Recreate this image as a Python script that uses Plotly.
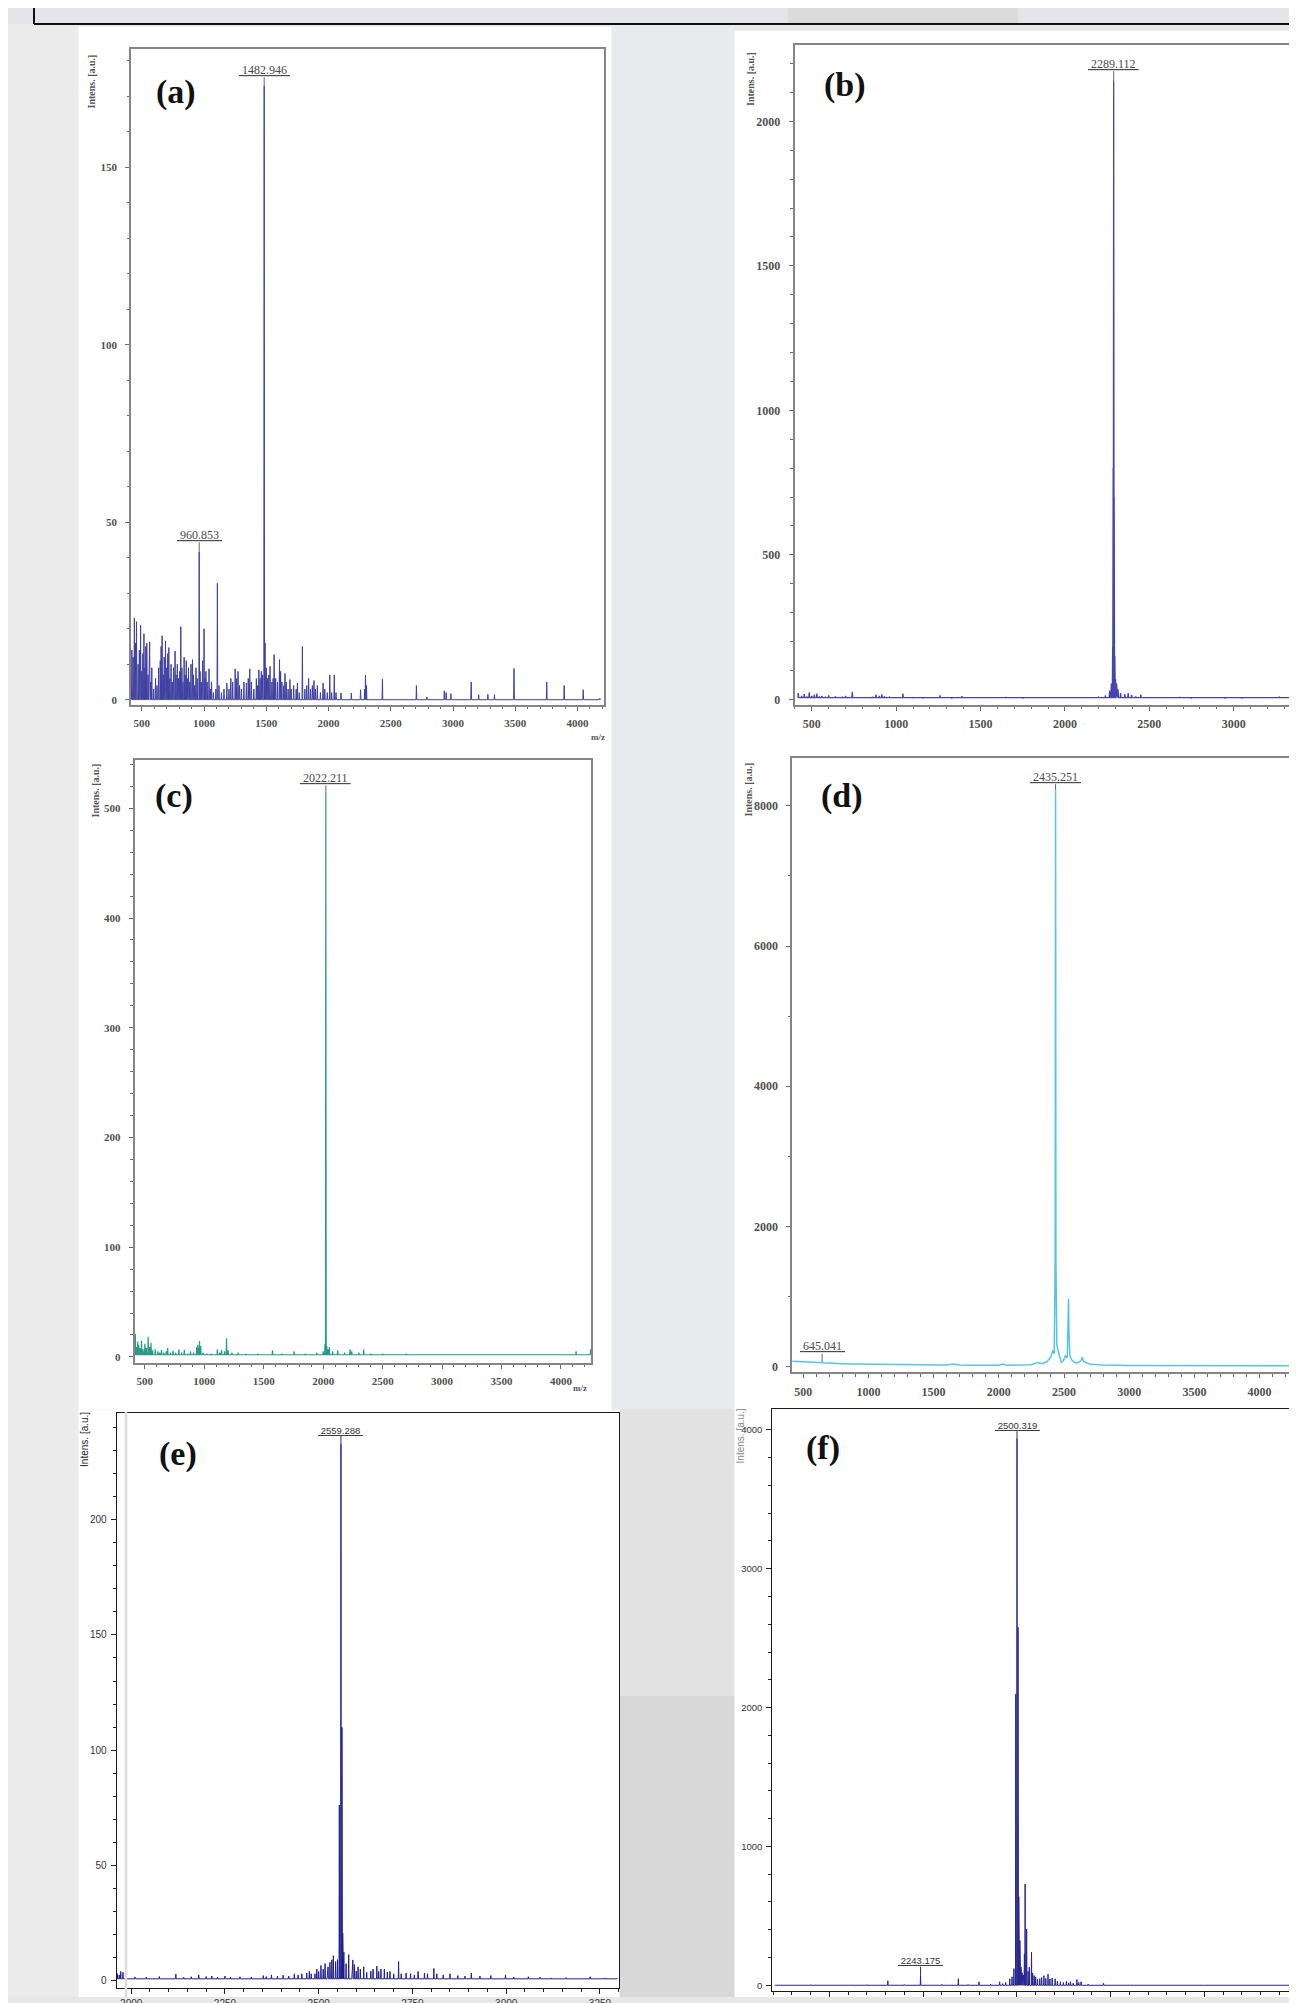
import plotly.graph_objects as go

W, H = 1297, 2003

# ---------------- data ----------------
# (a)
a_mz = [420, 430, 440, 448, 457, 470, 480, 490, 500, 508, 517, 525, 532, 540, 550, 557, 563, 572, 580, 595,
        610, 622, 635, 648, 655, 663, 672, 680, 690, 700, 708, 717, 725, 735, 745, 755, 767, 775, 785, 795,
        805, 813, 822, 830, 840, 848, 857, 865, 875, 885, 895, 907, 915, 925, 935, 945, 960.853, 968, 978, 988,
        1000, 1008, 1015, 1025, 1040, 1050, 1060, 1075, 1095, 1107, 1120, 1140, 1160, 1183, 1200, 1215, 1230, 1250, 1262, 1273,
        1285, 1300, 1320, 1340, 1355, 1367, 1380, 1400, 1420, 1430, 1440, 1450, 1460, 1470, 1482.946, 1490, 1500, 1510, 1520, 1530,
        1545, 1555, 1563, 1575, 1590, 1606, 1615, 1625, 1640, 1650, 1660, 1675, 1690, 1700, 1720, 1740, 1750, 1765, 1790, 1810,
        1825, 1840, 1855, 1870, 1883, 1895, 1910, 1935, 1956, 1970, 1990, 2010, 2025, 2046, 2060, 2100, 2183, 2257, 2290, 2297,
        2305, 2433, 2706, 2790, 2930, 2945, 2983, 3146, 3206, 3280, 3333, 3490, 3753, 3893, 4046, 4180]
a_int = [14, 12, 23, 16, 22, 10, 14, 21, 8, 13, 18.6, 9, 15, 16, 7, 12, 16.3, 5, 9, 3,
         6, 4, 9, 11, 15, 18, 7, 12, 16.6, 9, 13, 14.7, 6, 10, 5, 9, 13.7, 7, 10, 6,
         8, 20.6, 9, 5, 12, 7, 11, 6, 9, 5, 10, 11.3, 7, 4, 9, 6, 41.7, 8, 5, 11,
         20, 6, 8, 5, 8.7, 3, 5, 2, 3, 32.8, 4, 2, 3, 4.7, 3, 6, 5, 8.7, 6, 8,
         4, 3, 5, 4.7, 6, 8.7, 5, 3, 6, 4, 8.4, 6, 8, 7, 173, 16, 9, 6, 7, 9.4,
         5, 6, 12.7, 6, 5, 11.3, 8, 5, 4, 7.4, 5, 3, 5.7, 3, 4, 3, 4.7, 2, 15, 3,
         4, 6, 3, 4, 5.4, 3, 4, 2, 4.7, 3, 2, 7, 2, 7, 2, 1.9, 1.9, 2.8, 3, 6.9,
         4, 5.8, 4, 0.8, 2.5, 2, 1.7, 5, 1.4, 1.5, 1.4, 8.8, 5, 4, 2.8, 0.4]
a_label_mz = [960.853, 1482.946]
a_label_int = [41.7, 173]

# (b)
b_mz = [420, 440, 455, 470, 485, 500, 515, 530, 545, 560, 580, 600, 620, 640, 660, 680, 700, 720, 740, 760,
        800, 830, 860, 880, 900, 915, 930, 960, 1000, 1040, 1060, 1100, 1160, 1200, 1260, 1290, 1330, 1390, 1420, 1460,
        1520, 1580, 1650, 1680, 1750, 1850, 1950, 2050, 2150, 2200, 2240, 2265, 2275, 2283, 2286, 2289.112, 2292, 2296, 2300, 2306,
        2315, 2330, 2355, 2375, 2395, 2420, 2450, 2480, 2530, 2600, 2680, 2750, 2850, 2950, 3050, 3150, 3270, 3350, 3405]
b_int = [22, 12, 18, 10, 24, 12, 16, 20, 10, 12, 8, 14, 7, 10, 6, 9, 12, 8, 26, 6,
         8, 6, 9, 16, 12, 17, 10, 8, 5, 20, 8, 5, 4, 5, 14, 7, 4, 11, 5, 4,
         5, 4, 7, 5, 3, 4, 5, 4, 6, 8, 14, 30, 55, 180, 800, 2141, 700, 150, 70, 55,
         35, 22, 18, 22, 15, 10, 16, 6, 5, 4, 7, 3, 4, 3, 3, 4, 8, 3, 4]
b_label_mz = [2289.112]
b_label_int = [2141]

# (c)
c_mz = [420, 430, 440, 448, 460, 472, 485, 500, 512, 528, 540, 552, 565, 587, 610, 625, 640, 660, 680, 692,
        715, 737, 760, 786, 810, 832, 860, 884, 910, 936, 945, 952, 960, 970, 990, 1020, 1060, 1110, 1130, 1145,
        1170, 1187, 1200, 1232, 1285, 1350, 1450, 1574, 1650, 1755, 1850, 1947, 2000, 2015, 2022.211, 2030, 2040, 2052, 2080, 2122,
        2180, 2226, 2240, 2300, 2341, 2400, 2500, 2700, 4127, 4249]
c_int = [21, 9, 14, 11, 8, 15, 7, 12, 8, 18.3, 9, 13, 6, 7, 5, 4, 6.4, 4, 5, 8,
         4, 5.6, 4, 7, 4, 6.4, 3, 5, 4, 9, 11, 8, 14.4, 10, 4, 3, 3, 7, 4, 6.4,
         5, 17, 6, 4, 4, 3, 3, 6, 3, 5, 3, 4, 5, 12, 515, 10, 7, 9, 5, 6,
         4, 7, 5, 4, 7, 3, 3, 3, 5, 7]
c_label_mz = [2022.211]
c_label_int = [515]

# (d) profile points
d_mz = [415, 480, 560, 620, 640, 645.041, 650, 700, 800, 900, 1000, 1100, 1200, 1300, 1400, 1500, 1600, 1650, 1700, 1800,
        1900, 2000, 2030, 2060, 2150, 2250, 2300, 2330, 2370, 2400, 2415, 2425, 2432, 2435.251, 2438, 2445, 2455, 2470, 2480, 2495,
        2510, 2525, 2532, 2535, 2538, 2545, 2560, 2580, 2600, 2630, 2640, 2650, 2700, 2800, 3000, 3500, 4000, 4348]
d_int = [75, 72, 62, 55, 52, 75, 52, 45, 40, 35, 35, 30, 28, 25, 25, 22, 20, 35, 20, 18,
         18, 18, 35, 18, 20, 25, 55, 40, 70, 140, 230, 180, 1500, 8231, 1500, 300, 220, 120, 60, 80,
         150, 120, 600, 965, 500, 150, 90, 60, 50, 80, 130, 70, 30, 20, 15, 12, 10, 10]
d_label_mz = [645.041, 2435.251]
d_label_int = [75, 8231]

# (e)
e_mz = [1963, 1968, 1972, 1978, 1985, 2010, 2040, 2075, 2119, 2140, 2160, 2180, 2200, 2215, 2230, 2250, 2265, 2290, 2320, 2352,
        2360, 2374, 2390, 2405, 2420, 2435, 2445, 2455, 2468, 2475, 2480, 2490, 2495, 2500, 2506, 2512, 2517, 2523, 2525, 2530,
        2535, 2539, 2545, 2550, 2555, 2559.288, 2562, 2564, 2567, 2573, 2580, 2589, 2591, 2595, 2600, 2605, 2611, 2620, 2628, 2639,
        2645, 2655, 2660, 2666, 2675, 2683, 2690, 2700, 2713, 2720, 2733, 2745, 2755, 2765, 2782, 2790, 2807, 2815, 2832, 2850,
        2871, 2890, 2907, 2930, 2959, 2998, 3020, 3059, 3090, 3120, 3160, 3224, 3263, 3296]
e_int = [3, 2.5, 4, 3.6, 1.5, 1.6, 1.5, 1.8, 2.8, 1.5, 1.7, 2.5, 1.8, 2, 1.6, 2, 1.5, 1.7, 1.6, 2.2,
         1.8, 2.5, 2, 2.4, 2, 3, 2.5, 3, 3.3, 4, 3, 3, 5, 4, 6.6, 5, 7.4, 4.1, 6, 8,
         9, 10.8, 8.3, 9.1, 76.2, 232.8, 109.9, 20.7, 12.4, 7.4, 11.3, 6.1, 9, 7, 4.1, 6, 5, 6, 3.6, 4.1,
         5, 6.3, 4, 5, 5, 3.8, 4, 3, 8.3, 3, 3.3, 3, 2.5, 4, 3.3, 3, 5.3, 3, 2.5, 3,
         2.2, 2, 3.3, 2, 2.2, 2.5, 1.6, 1.7, 1.5, 1.2, 1.3, 1.7, 1.2, 1.0]
e_label_mz = [2559.288]
e_label_int = [232.8]

# (f)
f_mz = [1855, 1870, 1950, 2050, 2100, 2156, 2200, 2243.175, 2300, 2344, 2370, 2399, 2430, 2454, 2462, 2470, 2481, 2487, 2492, 2497,
        2500.319, 2503, 2505, 2508, 2511, 2514, 2517, 2520, 2522, 2526, 2530, 2533, 2539, 2542, 2546, 2550, 2555, 2561, 2566, 2572,
        2577, 2583, 2588, 2594, 2602, 2608, 2616, 2624, 2632, 2638, 2643, 2650, 2660, 2665, 2671, 2690, 2731, 2800, 3000, 3265]
f_int = [2, 3, 4, 3, 4, 33, 5, 69, 6, 47, 5, 25, 8, 25, 12, 20, 47, 61, 120, 2097,
         3940, 2578, 639, 323, 130, 90, 75, 226, 730, 405, 102, 130, 240, 88, 70, 61, 45, 47, 55, 69,
         50, 80, 45, 52, 47, 30, 25, 20, 28, 18, 25, 15, 41, 20, 25, 8, 14, 3, 2, 1]
f_label_mz = [2243.175, 2500.319]
f_label_int = [69, 3940]

# ---------------- helpers ----------------
def sticks(mz, inten, base, half):
    xs, ys = [], []
    for m, h in sorted(zip(mz, inten)):
        xs += [m - half, m, m + half]
        ys += [base, h, base]
    return xs, ys

def px(x):
    return x / W

def py(y):
    return 1 - y / H

OLD_FONT = "Liberation Serif"
NEW_FONT = "Liberation Sans"

fig = go.Figure()

panels = {
    1: dict(box=(123, 596, 41.5, 701.7), xr=[413, 4213], yr=[-1.43, 183.3], xd=500, xm=100, yd=50, ym=10, old=True, rline=True, tf=11),
    2: dict(box=(786.5, 1295, 37, 701.7), xr=[397.5, 3411], yr=[-19, 2265], xd=500, xm=100, yd=500, ym=100, old=True, rline=True, tf=12),
    3: dict(box=(126.5, 583.3, 757.3, 1364.5), xr=[413, 4255], yr=[-5.5, 544], xd=500, xm=100, yd=100, ym=20, old=True, rline=True, tf=11),
    4: dict(box=(784.1, 1297, 755.5, 1374.0), xr=[415, 4348], yr=[-85, 8681], xd=500, xm=100, yd=2000, ym=1000, old=True, rline=False, tf=12),
    5: dict(box=(108.6, 610.7, 1414.6, 1994.2), xr=[1961, 3300], yr=[-3.3, 246.4], xd=250, xm=50, yd=50, ym=10, old=False, rline=True, tf=10),
    6: dict(box=(764.3, 1297, 1410.8, 1997), xr=[1848, 3268], yr=[-41.5, 4151], xd=250, xm=50, yd=1000, ym=200, old=False, rline=False, tf=9.5),
}

layout_axes = {}
for i, p in panels.items():
    l, r, t, b = p["box"]
    s = "" if i == 1 else str(i)
    lc = "#858585" if p["old"] else "#1a1a1a"
    tc = "#6a6a6a" if p["old"] else "#222222"
    fnt = dict(family=OLD_FONT if p["old"] else NEW_FONT, size=p["tf"], color="#505050" if p["old"] else "#333333",
               weight="bold" if p["old"] else "normal")
    layout_axes["xaxis" + s] = dict(
        domain=[px(l), px(r)], range=p["xr"], anchor="y" + s, dtick=p["xd"], tick0=0,
        ticks="outside", ticklen=4 if p["old"] else 5, tickwidth=1.2 if p["old"] else 1, tickcolor=tc,
        minor=dict(dtick=p["xm"], tick0=0, ticks="outside", ticklen=2.5 if p["old"] else 3, tickcolor=tc, showgrid=False),
        showline=True, mirror=True, linecolor=lc, linewidth=1.5 if p["old"] else 1,
        showgrid=False, zeroline=False, tickfont=fnt, tickformat="d",
        ticklabelstandoff=3 if p["old"] else 1, fixedrange=True)
    layout_axes["yaxis" + s] = dict(
        domain=[py(b), py(t)], range=p["yr"], anchor="x" + s, dtick=p["yd"], tick0=0,
        ticks="outside", ticklen=4 if p["old"] else 5, tickwidth=1.2 if p["old"] else 1, tickcolor=tc,
        minor=dict(dtick=p["ym"], tick0=0, ticks="outside", ticklen=2.5 if p["old"] else 3, tickcolor=tc, showgrid=False),
        showline=True, mirror=p["rline"], linecolor=lc, linewidth=1.5 if p["old"] else 1,
        showgrid=False, zeroline=False, tickfont=fnt, tickformat="d",
        ticklabelstandoff=6 if p["old"] else 2, fixedrange=True)

series = [
    (1, a_mz, a_int, 0, 3, "#3f3fa0", 1.0),
    (2, b_mz, b_int, 6, 2.5, "#4545ad", 1.3),
    (3, c_mz, c_int, 2, 3, "#2a9a86", 1.2),
    (5, e_mz, e_int, 0.8, 0.8, "#1f1f8c", 1.0),
    (6, f_mz, f_int, 0, 0.8, "#25258f", 1.0),
]
for i, mz, it, base, half, col, lw in series:
    s = "" if i == 1 else str(i)
    xs, ys = sticks(mz, it, base, half)
    fig.add_trace(go.Scatter(x=xs, y=ys, mode="lines", line=dict(color=col, width=lw),
                             xaxis="x" + s, yaxis="y" + s, showlegend=False, hoverinfo="skip"))
# (d) profile
fig.add_trace(go.Scatter(x=d_mz, y=d_int, mode="lines", line=dict(color="#55c5e5", width=1.5),
                         xaxis="x4", yaxis="y4", showlegend=False, hoverinfo="skip"))

annotations = []

def peak_labels(i, mzs, ints, old, ays):
    s = "" if i == 1 else str(i)
    for m, h, ay in zip(mzs, ints, ays):
        annotations.append(dict(
            x=m, y=h, xref="x" + s, yref="y" + s,
            text="<u>\u00a0" + f"{m:.3f}" + "\u00a0</u>",
            showarrow=True, arrowhead=0, arrowwidth=1, arrowcolor="#666666" if old else "#333333",
            ax=0, ay=ay, standoff=0, borderpad=0,
            font=dict(family=OLD_FONT if old else NEW_FONT, size=(12 if old else 9.5),
                      color="#4a4a4a" if old else "#333333")))

peak_labels(1, a_label_mz, a_label_int, True, [-17, -16])
peak_labels(2, b_label_mz, b_label_int, True, [-17])
peak_labels(3, c_label_mz, c_label_int, True, [-14])
peak_labels(4, d_label_mz, d_label_int, True, [-15, -13])
peak_labels(5, e_label_mz, e_label_int, False, [-14])
peak_labels(6, f_label_mz, f_label_int, False, [-15, -13])

# panel letters
for txt, x, y in [("(a)", 168, 85), ("(b)", 837, 78), ("(c)", 166, 794),
                  ("(d)", 834, 794), ("(e)", 170, 1456), ("(f)", 815, 1450)]:
    annotations.append(dict(x=px(x), y=py(y), xref="paper", yref="paper", text="<b>" + txt + "</b>",
                            showarrow=False, xanchor="center", yanchor="middle",
                            font=dict(family=OLD_FONT, size=34, color="#111111")))

# y-axis titles
for x, y, old, col in [(83, 74, True, "#555555"), (742.5, 71, True, "#555555"), (87, 788, True, "#555555"),
                       (740, 787, True, "#555555"), (77, 1442, False, "#222222"), (732.5, 1438, False, "#888888")]:
    annotations.append(dict(x=px(x), y=py(y), xref="paper", yref="paper",
                            text=("<b>Intens. [a.u.]</b>" if old else "Intens. [a.u.]"),
                            textangle=-90, showarrow=False, xanchor="center", yanchor="middle",
                            font=dict(family=OLD_FONT if old else NEW_FONT, size=10, color=col)))

# m/z labels
for x, y in [(590, 734), (1288, 733), (572, 1390), (1290, 1401)]:
    annotations.append(dict(x=px(x), y=py(y), xref="paper", yref="paper", text="<b>m/z</b>",
                            showarrow=False, xanchor="center", yanchor="middle",
                            font=dict(family=OLD_FONT, size=9, color="#555555")))

shapes = []
def rect(x0, y0, x1, y1, color, layer="below"):
    shapes.append(dict(type="rect", xref="paper", yref="paper", x0=px(x0), x1=px(x1), y0=py(y1), y1=py(y0),
                       fillcolor=color, line=dict(width=0), layer=layer))

# background areas
rect(0, 0, 1297, 16, "#e3e5e8")
rect(780, 0, 1010, 16, "#dadbdd")
rect(0, 16, 70.5, 2003, "#ebebeb")
rect(603.5, 16, 726.5, 1411, "#e8eaed")
rect(611.5, 1411, 726.5, 1700, "#e2e2e2")
rect(611.5, 1700, 726.5, 2003, "#d8d8d8")
# white figure areas
rect(70.5, 19, 603.5, 1411.5, "#ffffff")
rect(70.5, 1411.5, 611.5, 2003, "#ffffff")
rect(726.5, 23, 1297, 2003, "#ffffff")

# frame lines
shapes.append(dict(type="line", xref="paper", yref="paper", x0=px(26), x1=px(1297), y0=py(16), y1=py(16),
                   line=dict(color="#111111", width=2), layer="above"))
shapes.append(dict(type="line", xref="paper", yref="paper", x0=px(26), x1=px(26), y0=py(0), y1=py(16),
                   line=dict(color="#111111", width=2), layer="above"))
# light stripe across panel (e)
shapes.append(dict(type="line", xref="paper", yref="paper", x0=px(118), x1=px(118), y0=py(1414), y1=py(2003),
                   line=dict(color="#dcdcdc", width=2.5), layer="above"))

fig.update_layout(
    width=W, height=H, margin=dict(l=0, r=0, t=0, b=0),
    paper_bgcolor="#e7e7e7", plot_bgcolor="#ffffff",
    showlegend=False, annotations=annotations, shapes=shapes,
    **layout_axes)

fig.write_html("out.html")
